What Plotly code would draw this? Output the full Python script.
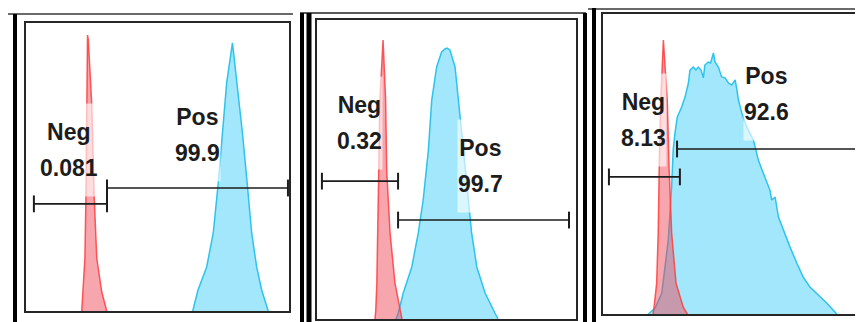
import plotly.graph_objects as go

# the page body adds an 8px margin, so the figure is drawn 8px smaller and
# all layout pixel positions (measured on the 863x322 reference) are shifted by it
OFF = 8
W, H = 863 - OFF, 322 - OFF

# ---------------- data (x: fluorescence channel 0-100, y: % of max) ----------------
p1_neg_x = [21.2, 21.7, 22.4, 22.8, 23.1, 23.4, 23.7, 25.0, 25.9, 26.9, 28.8, 30.7]
p1_neg_y = [0, 6.6, 18.4, 40.3, 71.5, 95.8, 94.1, 71.5, 40.3, 18.4, 6.6, 0]
p1_pos_x = [63.4, 65.4, 68.7, 71.2, 73.1, 74.8, 76.3, 78.5, 80.3, 82.3, 84.1, 85.8, 87.7, 89.6, 92.1]
p1_pos_y = [0, 7.3, 15.3, 27.1, 44.4, 61.8, 79.2, 93.1, 79.2, 61.8, 44.4, 27.1, 15.3, 7.3, 0]

p2_neg_x = [22.4, 22.7, 23.1, 23.4, 23.7, 24.3, 25.5, 26.5, 26.9, 28.2, 30.1, 32.0, 32.8]
p2_neg_y = [0, 3.0, 12.0, 28.8, 49.8, 73.2, 93.3, 73.2, 49.8, 28.8, 12.0, 3.0, 0]
p2_pos_x = [30.5, 31.4, 33.3, 36.6, 39.1, 41.0, 43.0, 44.3, 46.2, 48.1, 49.4, 50.2, 51.3,
            53.3, 54.6, 56.5, 58.4, 59.7, 61.7, 64.9, 68.7, 69.9]
p2_pos_y = [0, 2.0, 8.7, 17.4, 28.8, 39.8, 56.5, 73.2, 84.3, 89.3, 90.3, 90.6, 90.0,
            84.3, 73.2, 56.5, 39.8, 28.8, 17.4, 8.7, 2.0, 0]

p3_neg_x = [19.4, 19.8, 20.8, 21.4, 21.8, 22.4, 23.4, 24.9, 25.6, 26.6, 28.3, 31.1, 32.7]
p3_neg_y = [0, 2.3, 10.3, 27.0, 49.0, 71.3, 91.3, 71.3, 49.0, 27.0, 10.3, 2.3, 0]
p3_pos_x = [17.6, 20.2, 22.8, 25.3, 26.6, 27.2, 27.9, 28.8, 30.5, 31.8, 33.1, 33.7, 35.0,
            36.0, 36.9, 38.0, 38.9, 39.5, 40.8, 41.7, 42.8, 43.4, 44.7, 46.0, 47.3, 48.6,
            49.9, 51.2, 51.8, 52.5, 53.8, 55.7, 58.3, 60.2, 62.1, 64.7, 65.4, 66.7, 68.0,
            69.9, 72.5, 75.1, 77.6, 80.2, 84.1, 86.7, 90.6]
p3_pos_y = [0, 2.0, 7.0, 24.7, 42.3, 54.7, 60.3, 65.7, 69.0, 72.3, 77.0, 81.3, 82.3,
            81.3, 82.3, 81.3, 78.7, 83.0, 84.0, 83.7, 87.0, 84.0, 82.3, 79.0, 78.7, 77.0,
            76.3, 78.0, 75.3, 71.3, 67.0, 62.3, 58.0, 51.3, 47.0, 41.3, 38.0, 39.0, 32.3,
            28.0, 22.3, 17.0, 12.3, 9.0, 5.7, 3.7, 0]

# gates: [x_start, x_end], y level
neg_gate_x = [[3.0, 30.8], [1.9, 31.3], [2.3, 29.8]]
neg_gate_y = [37.2, 46.1, 45.7]
pos_gate_x = [[30.8, 99.6], [31.3, 97.3], [28.7, 98.4]]
pos_gate_y = [42.7, 33.1, 55.0]

# gate statistics (%)
neg_pct = ["0.081", "0.32", "8.13"]
pos_pct = ["99.9", "99.7", "92.6"]
neg_label_xy = [(16.3, 55.9), (16.4, 65.4), (15.7, 64.7)]
pos_label_xy = [(65.2, 61.1), (63.3, 51.3), (63.4, 73.5)]

neg_series = [(p1_neg_x, p1_neg_y), (p2_neg_x, p2_neg_y), (p3_neg_x, p3_neg_y)]
pos_series = [(p1_pos_x, p1_pos_y), (p2_pos_x, p2_pos_y), (p3_pos_x, p3_pos_y)]

# ---------------- styling ----------------
BLUE_LINE = "#2EC3EE"
BLUE_FILL = "#A2E7FB"
RED_LINE = "rgba(255,60,60,0.85)"
RED_FILL = "rgba(238,70,85,0.48)"
INK = "#1c1c1c"
FONT = "Liberation Sans, Arial, sans-serif"
TXT = 23

# inner plot boxes in reference pixels (left, top, right, bottom)
boxes = [(26, 23, 289, 311), (317, 20, 576, 319), (603, 14, 861, 314)]


def px(x):
    return (x - OFF) / W


def py(y):
    return 1 - (y - OFF) / H


def lbl(a, b):
    s = f"<span style='font-size:{TXT}px'>"
    return s + a + "</span><br>" + s + b + "</span>"


fig = go.Figure()
layout_axes = {}
annotations = []
for i in range(3):
    l, t, r, b = boxes[i]
    xa = "x" if i == 0 else f"x{i+1}"
    ya = "y" if i == 0 else f"y{i+1}"
    axis_common = dict(showline=True, mirror=True, linecolor="#262626", linewidth=2,
                       showgrid=False, zeroline=False, showticklabels=False, ticks="",
                       range=[0, 100], fixedrange=True)
    layout_axes["xaxis" if i == 0 else f"xaxis{i+1}"] = dict(
        domain=[px(l), px(r)], anchor=ya, **axis_common)
    layout_axes["yaxis" if i == 0 else f"yaxis{i+1}"] = dict(
        domain=[max(0, py(b)), py(t)], anchor=xa, **axis_common)

    bx, by = pos_series[i]
    fig.add_trace(go.Scatter(x=bx, y=by, mode="lines", fill="tozeroy",
                             fillcolor=BLUE_FILL, line=dict(color=BLUE_LINE, width=1.5),
                             xaxis=xa, yaxis=ya, showlegend=False, hoverinfo="skip"))
    rx, ry = neg_series[i]
    fig.add_trace(go.Scatter(x=rx, y=ry, mode="lines", fill="tozeroy",
                             fillcolor=RED_FILL, line=dict(color=RED_LINE, width=1.5),
                             xaxis=xa, yaxis=ya, showlegend=False, hoverinfo="skip"))
    for gx, gy in ((neg_gate_x[i], neg_gate_y[i]), (pos_gate_x[i], pos_gate_y[i])):
        fig.add_trace(go.Scatter(x=gx, y=[gy, gy], mode="lines+markers",
                                 line=dict(color=INK, width=1.6),
                                 marker=dict(symbol="line-ns", size=12,
                                             line=dict(color=INK, width=2)),
                                 xaxis=xa, yaxis=ya, showlegend=False, hoverinfo="skip",
                                 cliponaxis=False))
    for (lx, ly), (a, bb) in ((neg_label_xy[i], ("Neg", neg_pct[i])),
                              (pos_label_xy[i], ("Pos", pos_pct[i]))):
        annotations.append(dict(x=lx, y=ly, xref=xa, yref=ya, text=lbl(a, bb),
                                showarrow=False, xanchor="center", yanchor="middle",
                                align="center",
                                font=dict(family=FONT, size=28, color=INK, weight="bold"),
                                bgcolor="rgba(255,255,255,0.62)", borderpad=0,
                                height=92))

# decorative panel frames (lines), reference pixel positions
frame_lines = [
    # panel 1
    (6, 14, 293, 14, "#6a6a6a", 2), (15, 14, 15, 322, "#000000", 4),
    # panel 2
    (300, 13, 586, 13, "#5a5a5a", 2), (302, 13, 302, 322, "#000000", 4),
    (309, 13, 309, 322, "#000000", 5), (585, 13, 585, 322, "#000000", 4),
    # panel 3
    (588, 9, 863, 9, "#6a6a6a", 2), (594, 8, 594, 322, "#000000", 4),
]
shapes = [dict(type="line", xref="paper", yref="paper",
               x0=px(x0), y0=py(y0), x1=px(x1), y1=py(y1),
               line=dict(color=c, width=w)) for x0, y0, x1, y1, c, w in frame_lines]

fig.update_layout(width=W, height=H, margin=dict(l=0, r=0, t=0, b=0),
                  paper_bgcolor="white", plot_bgcolor="white",
                  annotations=annotations, shapes=shapes, **layout_axes)

fig.write_html("out.html")
